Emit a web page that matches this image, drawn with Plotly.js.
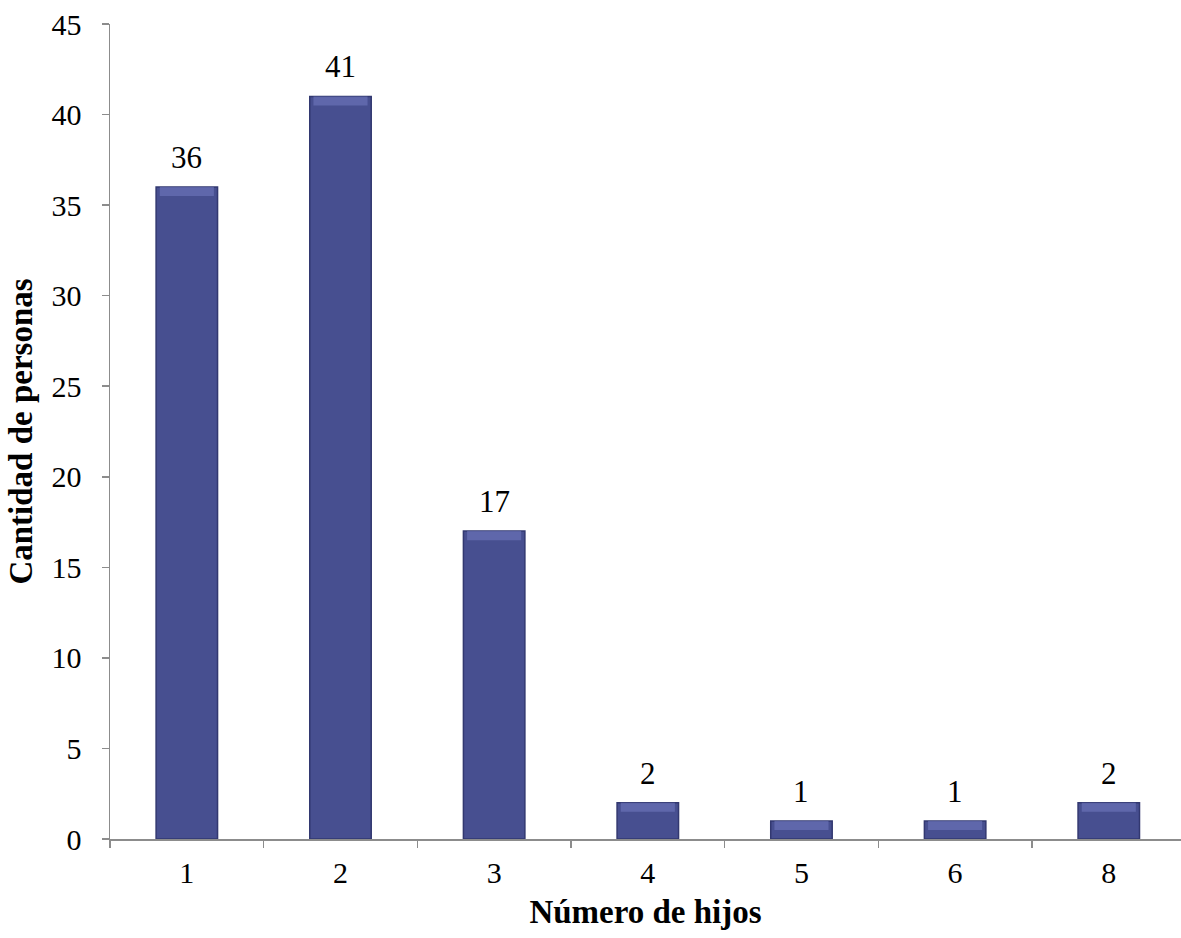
<!DOCTYPE html>
<html>
<head>
<meta charset="utf-8">
<script src="https://cdn.plot.ly/plotly-3.0.1.min.js"></script>
<style>
  html, body { margin: 0; padding: 0; background: #fff; }
  #chart { width: 1181px; height: 938px; }
</style>
</head>
<body>
<div id="chart"></div>
<script>
// Number of children per person and how many people report each count
const hijos = ['1', '2', '3', '4', '5', '6', '8'];
const personas = [36, 41, 17, 2, 1, 1, 2];

const serif = 'Liberation Serif, Times New Roman, serif';
const BAR_W = 0.4;
const BEVEL = 0.5; // depth of the lighter top bevel, in axis units

const barTrace = {
  type: 'bar',
  x: hijos,
  y: personas,
  width: BAR_W,
  marker: {
    color: '#474f90',
    line: { color: '#323870', width: 1.5 }
  },
  hoverinfo: 'x+y'
};

// lighter band along the top of each bar for the bevelled look
const bevelTrace = {
  type: 'bar',
  x: hijos,
  base: personas.map(v => v - BEVEL),
  y: personas.map(() => BEVEL),
  width: BAR_W * 0.88,
  marker: { color: 'rgba(112,120,190,0.6)', line: { width: 0 } },
  hoverinfo: 'skip'
};

// value labels above each bar (category axes place annotations by index)
const valueLabels = hijos.map((h, i) => ({
  x: i,
  y: personas[i],
  text: String(personas[i]),
  showarrow: false,
  yanchor: 'bottom',
  yshift: 10,
  font: { family: serif, size: 31, color: '#000' }
}));

const layout = {
  width: 1181,
  height: 938,
  margin: { l: 110, r: 0, t: 24, b: 99 },
  paper_bgcolor: '#fff',
  plot_bgcolor: '#fff',
  showlegend: false,
  barmode: 'overlay',
  font: { family: serif, size: 30, color: '#000' },
  annotations: valueLabels,
  xaxis: {
    type: 'category',
    range: [-0.5, 6.47],
    showgrid: false,
    zeroline: false,
    showline: true,
    linecolor: '#8c8c8c',
    linewidth: 1.5,
    ticks: 'outside',
    tickson: 'boundaries',
    ticklen: 7,
    tickcolor: '#8c8c8c',
    tickwidth: 1.5,
    ticklabelstandoff: 6,
    tickfont: { family: serif, size: 30, color: '#000' },
    title: {
      text: '<b>Número de hijos</b>',
      font: { family: serif, size: 33, color: '#000' },
      standoff: 12
    }
  },
  yaxis: {
    range: [0, 45],
    dtick: 5,
    showgrid: false,
    zeroline: false,
    showline: true,
    linecolor: '#8c8c8c',
    linewidth: 1.5,
    ticks: 'outside',
    ticklen: 7,
    tickcolor: '#8c8c8c',
    tickwidth: 1.5,
    ticklabelstandoff: 14,
    tickfont: { family: serif, size: 30, color: '#000' },
    title: {
      text: '<b>Cantidad de personas</b>',
      font: { family: serif, size: 33, color: '#000' },
      standoff: 9
    }
  }
};

Plotly.newPlot('chart', [barTrace, bevelTrace], layout, { displayModeBar: false, staticPlot: true });
</script>
</body>
</html>
